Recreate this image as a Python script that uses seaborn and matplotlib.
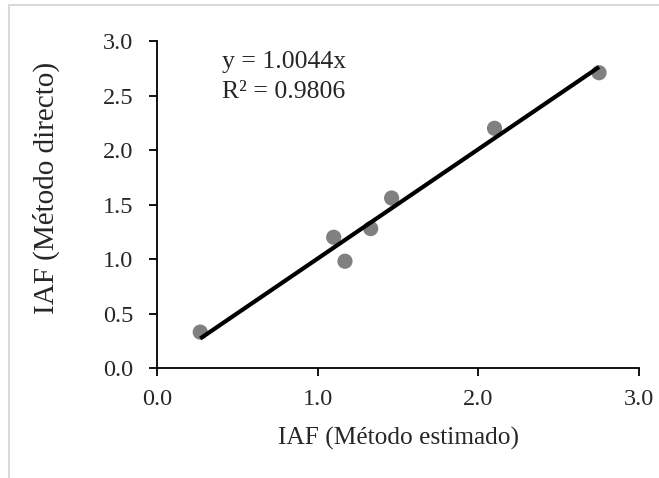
import matplotlib
matplotlib.use('Agg')
import matplotlib.pyplot as plt
from matplotlib.lines import Line2D
import seaborn as sns
import numpy as np
import pandas as pd

# Data
iaf_estimado = [0.27, 1.10, 1.17, 1.33, 1.46, 2.10, 2.75]
iaf_directo = [0.33, 1.20, 0.98, 1.28, 1.56, 2.20, 2.71]
slope = 1.0044
r2 = 0.9806
ticks_x = [0.0, 1.0, 2.0, 3.0]
ticks_y = [0.0, 0.5, 1.0, 1.5, 2.0, 2.5, 3.0]

sns.set_style('ticks')
plt.rcParams['font.family'] = ['Liberation Serif', 'DejaVu Serif']

df = pd.DataFrame({'est': iaf_estimado, 'dir': iaf_directo})

fig = plt.figure(figsize=(6.59, 4.78), dpi=100)
ax = fig.add_axes([0.238, 0.230, 0.732, 0.684])

sns.scatterplot(data=df, x='est', y='dir', ax=ax, color='#808080', s=120,
                edgecolor='none', zorder=2)

xl = np.array([min(iaf_estimado), max(iaf_estimado)])
ax.plot(xl, slope * xl, color='black', lw=3.0, solid_capstyle='butt', zorder=3)

ax.text(0.405, 2.81, f'y = {slope:.4f}x', fontsize=18.5, va='center', ha='left')
ax.text(0.405, 2.53, f'R² = {r2:.4f}', fontsize=18.5, va='center', ha='left')

ax.set_xlim(0, 3)
ax.set_ylim(0, 3)
ax.set_xticks(ticks_x)
ax.set_yticks(ticks_y)
ax.set_xticklabels([f'{t:.1f}' for t in ticks_x])
ax.set_yticklabels([f'{t:.1f}' for t in ticks_y])
ax.tick_params(axis='both', labelsize=17.5, width=1.3, length=6, color='black')
ax.tick_params(axis='x', pad=9)
ax.tick_params(axis='y', pad=11)
for side in ['top', 'right']:
    ax.spines[side].set_visible(False)
for side in ['left', 'bottom']:
    ax.spines[side].set_linewidth(1.3)
    ax.spines[side].set_color('black')

ax.set_xlabel('IAF (Método estimado)', fontsize=18.3, labelpad=12)
ax.set_ylabel('IAF (Método directo)', fontsize=21)
ax.yaxis.set_label_coords(-0.200, 0.55)

# light chart-area border (top and left edges visible)
fig.add_artist(Line2D([0.014, 1.0], [0.989, 0.989], transform=fig.transFigure,
                      color='#d9d9d9', lw=1.5))
fig.add_artist(Line2D([0.014, 0.014], [0.0, 0.989], transform=fig.transFigure,
                      color='#d9d9d9', lw=1.5))

fig.savefig('out.png', dpi=100)
